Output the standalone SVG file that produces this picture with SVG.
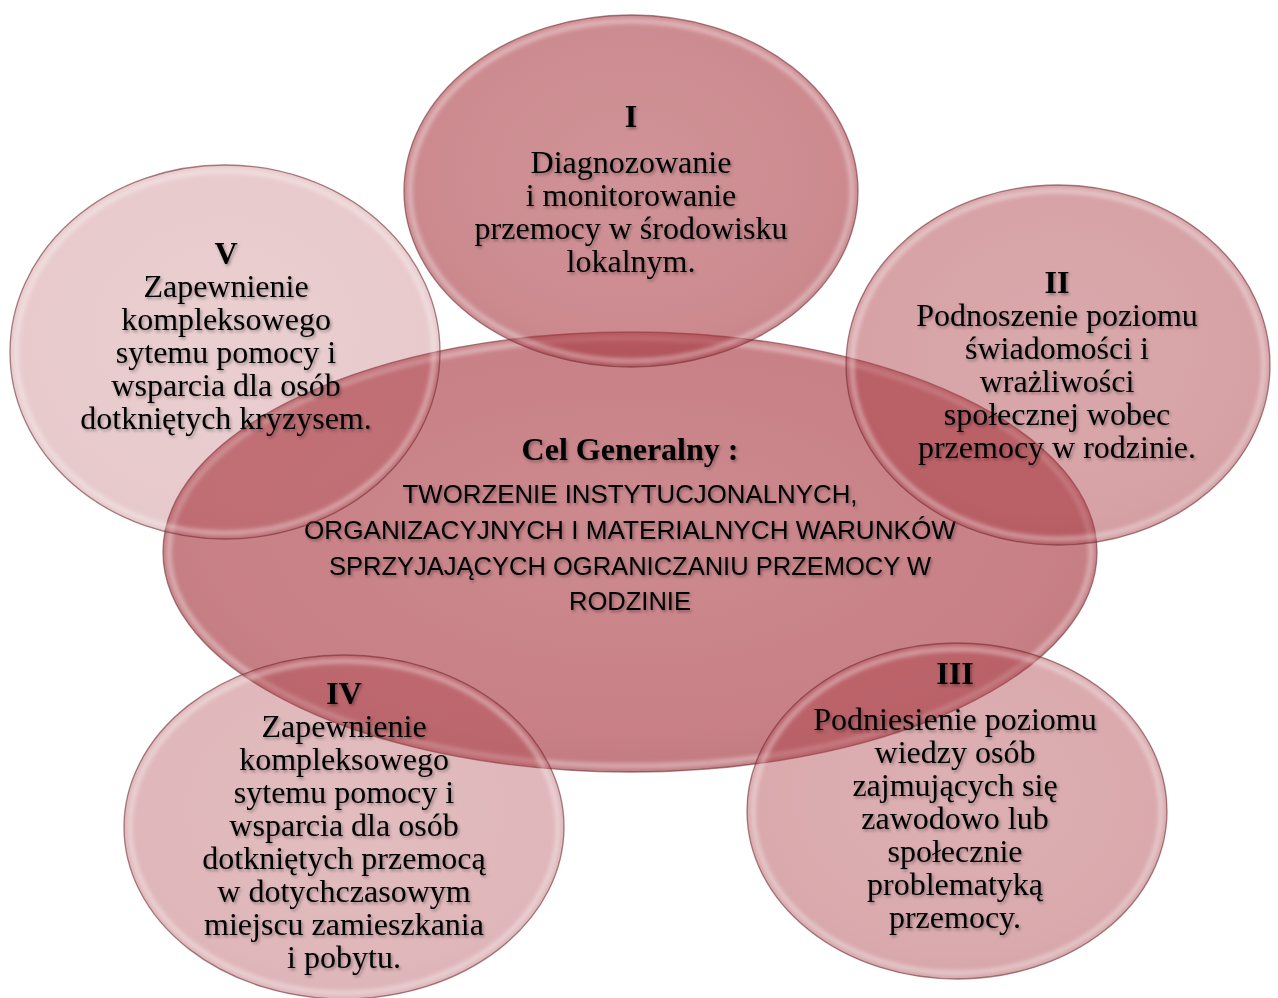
<svg xmlns="http://www.w3.org/2000/svg" width="1278" height="998" viewBox="0 0 1278 998">
<defs>
<filter id="tsh" x="-10%" y="-20%" width="120%" height="150%">
<feDropShadow dx="1.5" dy="2" stdDeviation="1.6" flood-color="#000" flood-opacity="0.35"/>
</filter>
<filter id="blur" x="-10%" y="-10%" width="120%" height="120%">
<feGaussianBlur stdDeviation="2"/>
</filter>
<radialGradient id="g" cx="50%" cy="45%" r="55%">
<stop offset="0" stop-color="#aa3c44" stop-opacity="0.92"/>
<stop offset="0.85" stop-color="#aa3c44" stop-opacity="1"/>
<stop offset="1" stop-color="#a0343c" stop-opacity="1"/>
</radialGradient>
</defs>
<style>
.bub{fill:url(#g);stroke:#6e2a30;stroke-width:1.3;stroke-opacity:0.6}
.rim{fill:none;stroke:#fff;stroke-width:4.5;stroke-opacity:0.42}
.t{font-family:"Liberation Serif","Times New Roman",serif;font-size:32px;fill:#000;text-anchor:middle}
.b{font-weight:bold}
.s{font-family:"Liberation Sans",Arial,sans-serif;font-size:26px;fill:#000;text-anchor:middle}
.txt{filter:url(#tsh)}
</style>
<rect width="1278" height="998" fill="#fff"/>
<g id="connectors"/>
<g id="central">
<ellipse class="bub" cx="630" cy="552" rx="467" ry="220" style="fill-opacity:0.65"/>
<ellipse class="rim" cx="630" cy="552" rx="461" ry="214" filter="url(#blur)"/>
<g class="txt">
<text class="t b" x="630" y="460">Cel Generalny :</text>
<text class="s" x="630" y="503" textLength="455" lengthAdjust="spacingAndGlyphs">TWORZENIE INSTYTUCJONALNYCH,</text>
<text class="s" x="630" y="539" textLength="652" lengthAdjust="spacingAndGlyphs">ORGANIZACYJNYCH I MATERIALNYCH WARUNKÓW</text>
<text class="s" x="630" y="575" textLength="602" lengthAdjust="spacingAndGlyphs">SPRZYJAJĄCYCH OGRANICZANIU PRZEMOCY W</text>
<text class="s" x="630" y="610" textLength="122" lengthAdjust="spacingAndGlyphs">RODZINIE</text>
</g>
</g>
<g id="node-I">
<ellipse class="bub" cx="631" cy="191" rx="227" ry="176" style="fill-opacity:0.6"/>
<ellipse class="rim" cx="631" cy="191" rx="221" ry="170" filter="url(#blur)"/>
<g class="txt">
<text class="t b" x="631" y="127">I</text>
<text class="t" x="631" y="173">Diagnozowanie</text>
<text class="t" x="631" y="206">i monitorowanie</text>
<text class="t" x="631" y="239">przemocy w środowisku</text>
<text class="t" x="631" y="272">lokalnym.</text>
</g>
</g>
<g id="node-V">
<ellipse class="bub" cx="225" cy="352" rx="215" ry="187" style="fill-opacity:0.27"/>
<ellipse class="rim" cx="225" cy="352" rx="209" ry="181" filter="url(#blur)"/>
<g class="txt">
<text class="t b" x="226" y="264">V</text>
<text class="t" x="226" y="297">Zapewnienie</text>
<text class="t" x="226" y="330">kompleksowego</text>
<text class="t" x="226" y="363">sytemu pomocy i</text>
<text class="t" x="226" y="396">wsparcia dla osób</text>
<text class="t" x="226" y="429">dotkniętych kryzysem.</text>
</g>
</g>
<g id="node-II">
<ellipse class="bub" cx="1058" cy="365" rx="212" ry="180" style="fill-opacity:0.48"/>
<ellipse class="rim" cx="1058" cy="365" rx="206" ry="174" filter="url(#blur)"/>
<g class="txt">
<text class="t b" x="1057" y="293">II</text>
<text class="t" x="1057" y="326">Podnoszenie poziomu</text>
<text class="t" x="1057" y="359">świadomości i</text>
<text class="t" x="1057" y="392">wrażliwości</text>
<text class="t" x="1057" y="425">społecznej wobec</text>
<text class="t" x="1057" y="458">przemocy w rodzinie.</text>
</g>
</g>
<g id="node-IV">
<ellipse class="bub" cx="344" cy="827" rx="220" ry="172" style="fill-opacity:0.37"/>
<ellipse class="rim" cx="344" cy="827" rx="214" ry="166" filter="url(#blur)"/>
<g class="txt">
<text class="t b" x="344" y="704">IV</text>
<text class="t" x="344" y="737">Zapewnienie</text>
<text class="t" x="344" y="770">kompleksowego</text>
<text class="t" x="344" y="803">sytemu pomocy i</text>
<text class="t" x="344" y="836">wsparcia dla osób</text>
<text class="t" x="344" y="869">dotkniętych przemocą</text>
<text class="t" x="344" y="902">w dotychczasowym</text>
<text class="t" x="344" y="935">miejscu zamieszkania</text>
<text class="t" x="344" y="968">i pobytu.</text>
</g>
</g>
<g id="node-III">
<ellipse class="bub" cx="957" cy="811" rx="210" ry="168" style="fill-opacity:0.44"/>
<ellipse class="rim" cx="957" cy="811" rx="204" ry="162" filter="url(#blur)"/>
<g class="txt">
<text class="t b" x="955" y="684">III</text>
<text class="t" x="955" y="730">Podniesienie poziomu</text>
<text class="t" x="955" y="763">wiedzy osób</text>
<text class="t" x="955" y="796">zajmujących się</text>
<text class="t" x="955" y="829">zawodowo lub</text>
<text class="t" x="955" y="862">społecznie</text>
<text class="t" x="955" y="895">problematyką</text>
<text class="t" x="955" y="928">przemocy.</text>
</g>
</g>
</svg>
